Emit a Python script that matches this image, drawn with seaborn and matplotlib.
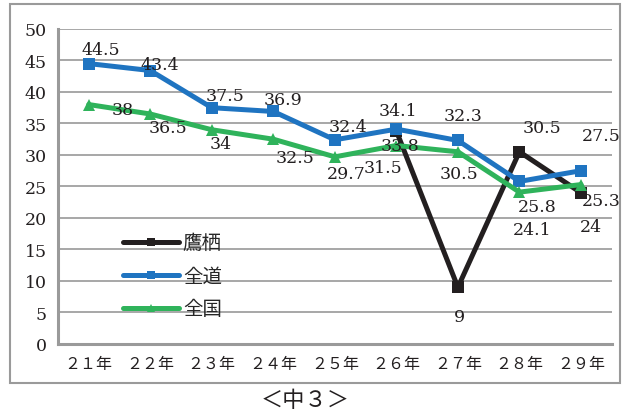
import matplotlib
matplotlib.use("Agg")
import matplotlib.pyplot as plt
import numpy as np
import pandas as pd
import seaborn as sns
from matplotlib.patches import Rectangle

# データ
years = ["２１年", "２２年", "２３年", "２４年", "２５年", "２６年", "２７年", "２８年", "２９年"]
takasu = [np.nan, np.nan, np.nan, np.nan, np.nan, 33.8, 9, 30.5, 24]
zendo = [44.5, 43.4, 37.5, 36.9, 32.4, 34.1, 32.3, 25.8, 27.5]
zenkoku = [38, 36.5, 34, 32.5, 29.7, 31.5, 30.5, 24.1, 25.3]
series_names = ["鷹栖", "全道", "全国"]

df = pd.DataFrame({"年": years, "鷹栖": takasu, "全道": zendo, "全国": zenkoku})
df["x"] = range(len(years))
df_long = df.melt(id_vars=["年", "x"], value_vars=series_names,
                  var_name="区分", value_name="値").dropna()

sns.set_theme(style="white")
plt.rcParams["font.family"] = ["DejaVu Serif", "Noto Sans CJK JP"]

colores = {"鷹栖": "#231f20", "全道": "#1f74c1", "全国": "#2fb35b"}
marcas = {"鷹栖": "s", "全道": "s", "全国": "^"}

fig = plt.figure(figsize=(6.3, 4.14), dpi=100)
ax = fig.add_axes([0.092, 0.1667, 0.879, 0.761])

sns.lineplot(data=df_long, x="x", y="値", hue="区分", style="区分",
             hue_order=series_names, style_order=series_names,
             palette=colores, markers=marcas, dashes=False,
             linewidth=3.6, markersize=8, markeredgewidth=0, ax=ax)

# 値ラベル（オフセット：ピクセル）
offs = {
    "全道": [(12, 14), (10, 6), (13, 12), (10, 12), (13, 13), (2, 19), (5, 25), (18, -25), (20, 35)],
    "全国": [(34, -5), (18, -14), (9, -14), (22, -18), (11, -17), (-13, -22), (1, -22), (13, -37), (20, -16)],
    "鷹栖": [None, None, None, None, None, (4, -14), (2, -29), (23, 24), (10, -34)],
}
vals = {"鷹栖": takasu, "全道": zendo, "全国": zenkoku}
for name in series_names:
    for i, v in enumerate(vals[name]):
        if np.isnan(v):
            continue
        dx, dy = offs[name][i]
        txt = f"{v:g}"
        ax.annotate(txt, (i, v), xytext=(dx, dy), textcoords="offset pixels",
                    ha="center", va="center", fontsize=12.5, color="#231f20")

ax.set_xlim(-0.5, 8.5)
ax.set_ylim(0, 50)
ax.set_yticks(range(0, 51, 5))
ax.set_yticklabels([str(t) for t in range(0, 51, 5)], fontsize=12.5, color="#231f20")
ax.set_xticks(range(len(years)))
ax.set_xticklabels(years, fontsize=11.5, color="#231f20", family=["Noto Sans CJK JP"])
ax.set_xticks(np.arange(-0.5, 9, 1), minor=True)
ax.tick_params(axis="x", which="major", length=0, pad=8)
ax.tick_params(axis="x", which="minor", length=5, color="#9a9a9a", width=1.5, direction="out")
ax.tick_params(axis="y", length=5, color="#9a9a9a", width=1.5, direction="out", pad=3)
ax.grid(axis="y", color="#a0a0a0", linewidth=1.3)
ax.set_axisbelow(True)
ax.set_xlabel("")
ax.set_ylabel("")
for s in ["top", "right"]:
    ax.spines[s].set_visible(False)
for s in ["left", "bottom"]:
    ax.spines[s].set_color("#9a9a9a")
    ax.spines[s].set_linewidth(2.2)

leg = ax.legend(loc="upper left", bbox_to_anchor=(0.085, 0.41), frameon=False,
                prop={"family": "Noto Sans CJK JP", "size": 14},
                handlelength=2.9, labelspacing=0.62, handletextpad=0.2)
for h in leg.legend_handles:
    h.set_markersize(6)

# 外枠
fig.patches.append(Rectangle((10 / 630, 1 - 384 / 414), 610 / 630, 379 / 414,
                             transform=fig.transFigure, fill=False,
                             edgecolor="#9a9a9a", linewidth=1.5))

fig.text(305 / 630, 1 - 401 / 414, "＜中３＞", ha="center", va="center",
         fontsize=16, family=["Noto Sans CJK JP"], color="#231f20")

fig.savefig("out.png", dpi=100)
